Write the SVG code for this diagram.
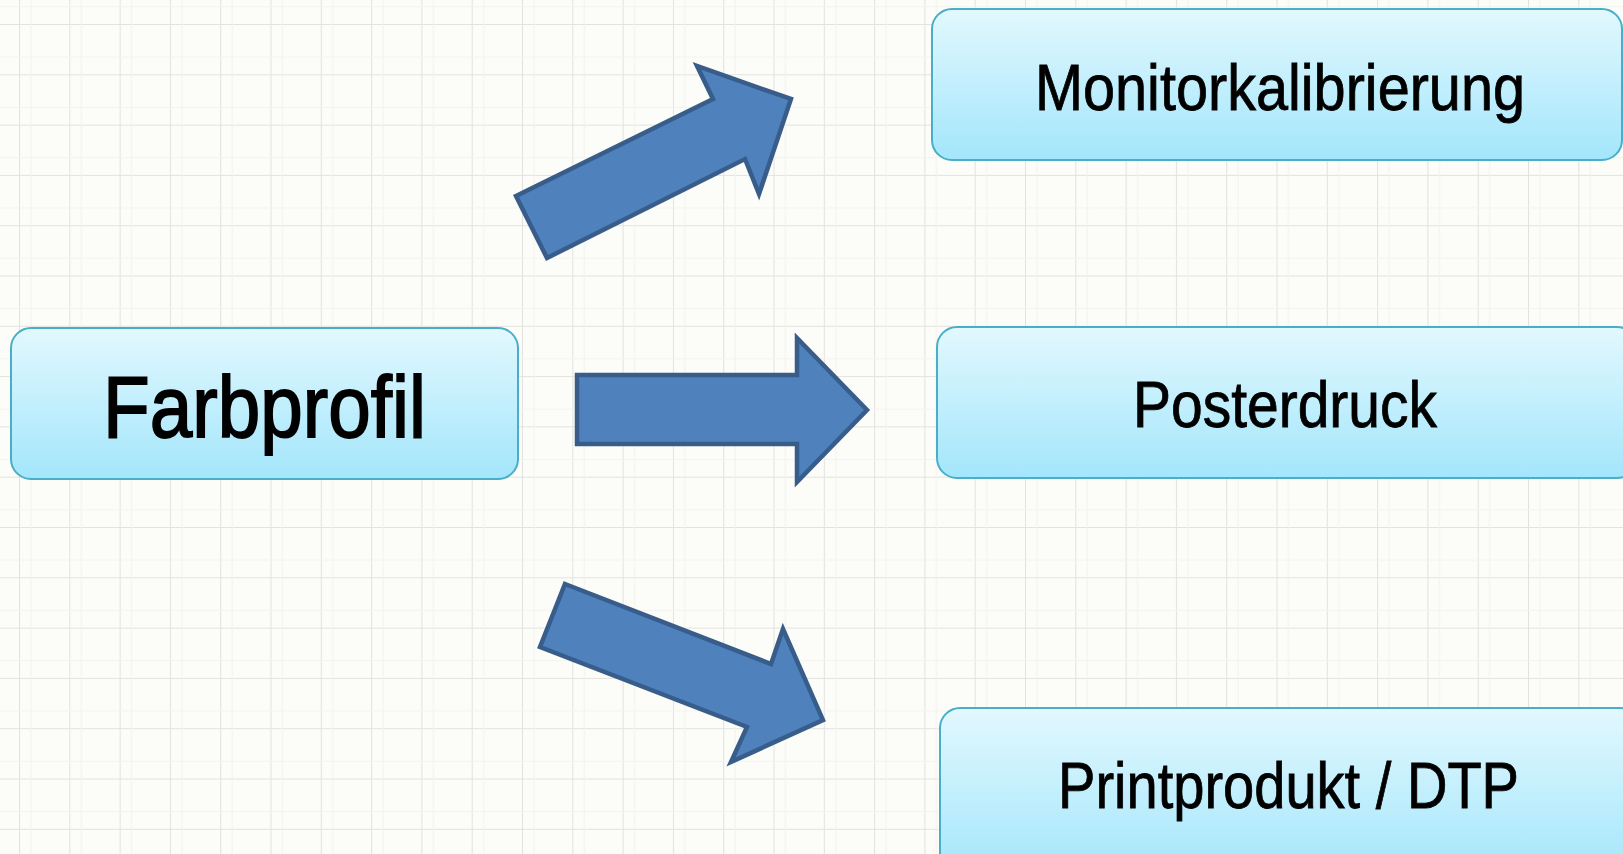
<svg xmlns="http://www.w3.org/2000/svg" width="1623" height="854" viewBox="0 0 1623 854">
<style>
.box{fill:url(#bg);stroke:#4aaec8;stroke-width:2}
.lbl{font-family:"Liberation Sans Narrow","Liberation Sans",Arial,sans-serif;font-stretch:condensed;fill:#000;stroke:#000;stroke-width:0.8;text-anchor:start}
.big{stroke-width:1.8}
.arr{fill:#4f81bd;stroke:#385d8a;stroke-width:4.5;stroke-linejoin:miter}
</style>
<defs>
<linearGradient id="bg" x1="0" y1="0" x2="0" y2="1">
<stop offset="0" stop-color="#e2f8fe"/>
<stop offset="1" stop-color="#a3e6fb"/>
</linearGradient>
<pattern id="grid" patternUnits="userSpaceOnUse" x="19" y="24" width="50.3" height="50.3">
<rect width="50.3" height="50.3" fill="#fcfdf8"/>
<path d="M0 0V50.3M0 0H50.3" stroke="#e2e3de" stroke-width="2" fill="none"/>
<path d="M12 0V50.3M0 33H50.3" stroke="#f3f4ef" stroke-width="1" fill="none"/>
</pattern>
</defs>
<rect width="1623" height="854" fill="url(#grid)"/>
<g id="connectors">
<polygon class="arr" points="547,258 516,196 713,99 697,66 791,99 759,194 745,159"/>
<polygon class="arr" points="577,375 797,375 797,338 867,410 797,482 797,444 577,444"/>
<polygon class="arr" points="565,584 771,664 783,629 823,720 731,762 747,727 540,647"/>
</g>
<g id="farbprofil">
<rect class="box" x="11" y="328" width="507" height="151" rx="20"/>
<text class="lbl big" x="103" y="437" font-size="87" textLength="323" lengthAdjust="spacingAndGlyphs">Farbprofil</text>
</g>
<g id="monitorkalibrierung">
<rect class="box" x="932" y="9" width="690" height="151" rx="20"/>
<text class="lbl" x="1035" y="110" font-size="64" textLength="490" lengthAdjust="spacingAndGlyphs">Monitorkalibrierung</text>
</g>
<g id="posterdruck">
<rect class="box" x="937" y="327" width="700" height="151" rx="20"/>
<text class="lbl" x="1133" y="427" font-size="64" textLength="304" lengthAdjust="spacingAndGlyphs">Posterdruck</text>
</g>
<g id="printprodukt">
<rect class="box" x="940" y="708" width="700" height="170" rx="20"/>
<text class="lbl" x="1058" y="808" font-size="64" textLength="461" lengthAdjust="spacingAndGlyphs">Printprodukt / DTP</text>
</g>
</svg>
